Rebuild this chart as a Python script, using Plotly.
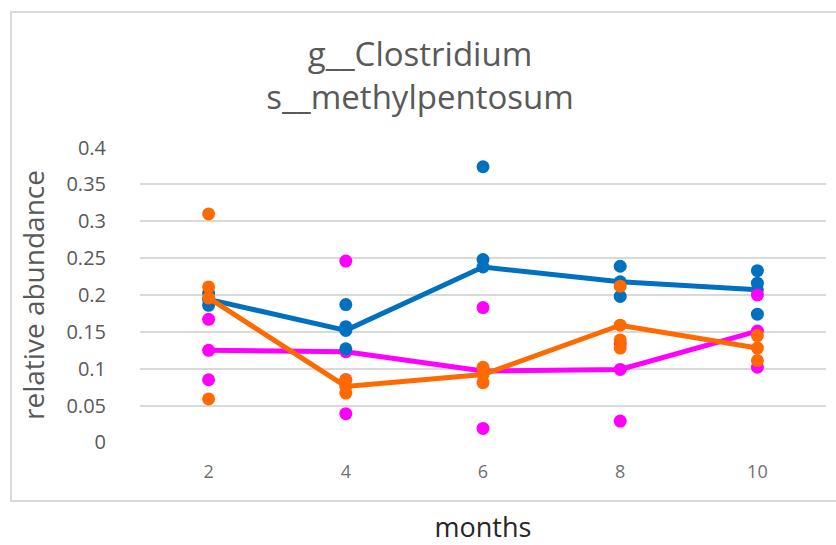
import plotly.graph_objects as go

# ---- data ----
months = ["2", "4", "6", "8", "10"]

blue_pts_x = ["2", "2", "4", "4", "4", "6", "6", "8", "8", "10", "10", "10"]
blue_pts_y = [0.203, 0.186, 0.187, 0.157, 0.127, 0.374, 0.248, 0.239, 0.198, 0.233, 0.216, 0.174]
blue_line = [0.194, 0.152, 0.238, 0.218, 0.207]

orange_pts_x = ["2", "2", "2", "4", "4", "6", "6", "8", "8", "8", "10", "10"]
orange_pts_y = [0.310, 0.211, 0.059, 0.085, 0.067, 0.102, 0.081, 0.212, 0.139, 0.128, 0.145, 0.111]
orange_line = [0.196, 0.076, 0.092, 0.159, 0.128]

magenta_pts_x = ["2", "2", "4", "4", "4", "6", "6", "8", "8", "10", "10"]
magenta_pts_y = [0.167, 0.085, 0.246, 0.085, 0.039, 0.183, 0.019, 0.134, 0.029, 0.200, 0.102]
magenta_line = [0.125, 0.123, 0.097, 0.099, 0.151]

y_ticks = [0, 0.05, 0.1, 0.15, 0.2, 0.25, 0.3, 0.35, 0.4]
y_tick_text = ["0", "0.05", "0.1", "0.15", "0.2", "0.25", "0.3", "0.35", "0.4"]

BLUE = "#0070C0"
ORANGE = "#FF6A00"
MAGENTA = "#FF00FF"
GRAY = "#595959"
GRID = "#D9D9D9"

MS = 13
LW = 5

fig = go.Figure()

fig.add_trace(go.Scatter(x=months, y=magenta_line, mode="lines+markers",
                         line=dict(color=MAGENTA, width=LW),
                         marker=dict(color=MAGENTA, size=MS)))
fig.add_trace(go.Scatter(x=months, y=blue_line, mode="lines+markers",
                         line=dict(color=BLUE, width=LW),
                         marker=dict(color=BLUE, size=MS)))
fig.add_trace(go.Scatter(x=blue_pts_x, y=blue_pts_y, mode="markers",
                         marker=dict(color=BLUE, size=MS)))
fig.add_trace(go.Scatter(x=magenta_pts_x, y=magenta_pts_y, mode="markers",
                         marker=dict(color=MAGENTA, size=MS)))
fig.add_trace(go.Scatter(x=months, y=orange_line, mode="lines+markers",
                         line=dict(color=ORANGE, width=LW),
                         marker=dict(color=ORANGE, size=MS)))
fig.add_trace(go.Scatter(x=orange_pts_x, y=orange_pts_y, mode="markers",
                         marker=dict(color=ORANGE, size=MS)))

W, H = 836, 545
L, R, T, B = 140, 10, 147, 102
pw, ph = W - L - R, H - T - B

def px_x(p):
    return (p - L) / pw

def px_y(p):
    return (H - B - p) / ph

fig.add_shape(type="rect", xref="paper", yref="paper",
              x0=px_x(11), x1=px_x(840), y0=px_y(501), y1=px_y(12),
              line=dict(color=GRID, width=2), fillcolor="rgba(0,0,0,0)", layer="below")

fig.update_layout(
    width=W, height=H,
    margin=dict(l=L, r=R, t=T, b=B, autoexpand=False),
    paper_bgcolor="white", plot_bgcolor="white",
    showlegend=False,
    font=dict(family="Open Sans", color=GRAY),
    title=dict(text="g__Clostridium<br>s__methylpentosum",
               font=dict(family="Open Sans", size=33, color=GRAY),
               x=420 / W, xanchor="center", xref="container",
               y=1 - 66 / H, yanchor="middle", yref="container"),
    xaxis=dict(type="category", categoryorder="array", categoryarray=months,
               range=[-0.5, 4.5], showgrid=False, zeroline=False, showline=False,
               ticks="", ticklabelstandoff=16,
               tickfont=dict(family="Open Sans", size=18, color="#707070"),
               title=dict(text="months", standoff=38,
                          font=dict(family="Open Sans", size=27, color="#262626"))),
    yaxis=dict(range=[-0.0008, 0.4008], tickvals=y_ticks, ticktext=y_tick_text,
               showgrid=True, gridcolor=GRID, gridwidth=2,
               zeroline=False, showline=False, ticks="", ticklabelstandoff=33,
               tickfont=dict(family="Open Sans", size=20, color=GRAY),
               title=dict(text="relative abundance", standoff=13,
                          font=dict(family="Open Sans", size=28, color=GRAY))),
)

fig.write_html("out.html")
